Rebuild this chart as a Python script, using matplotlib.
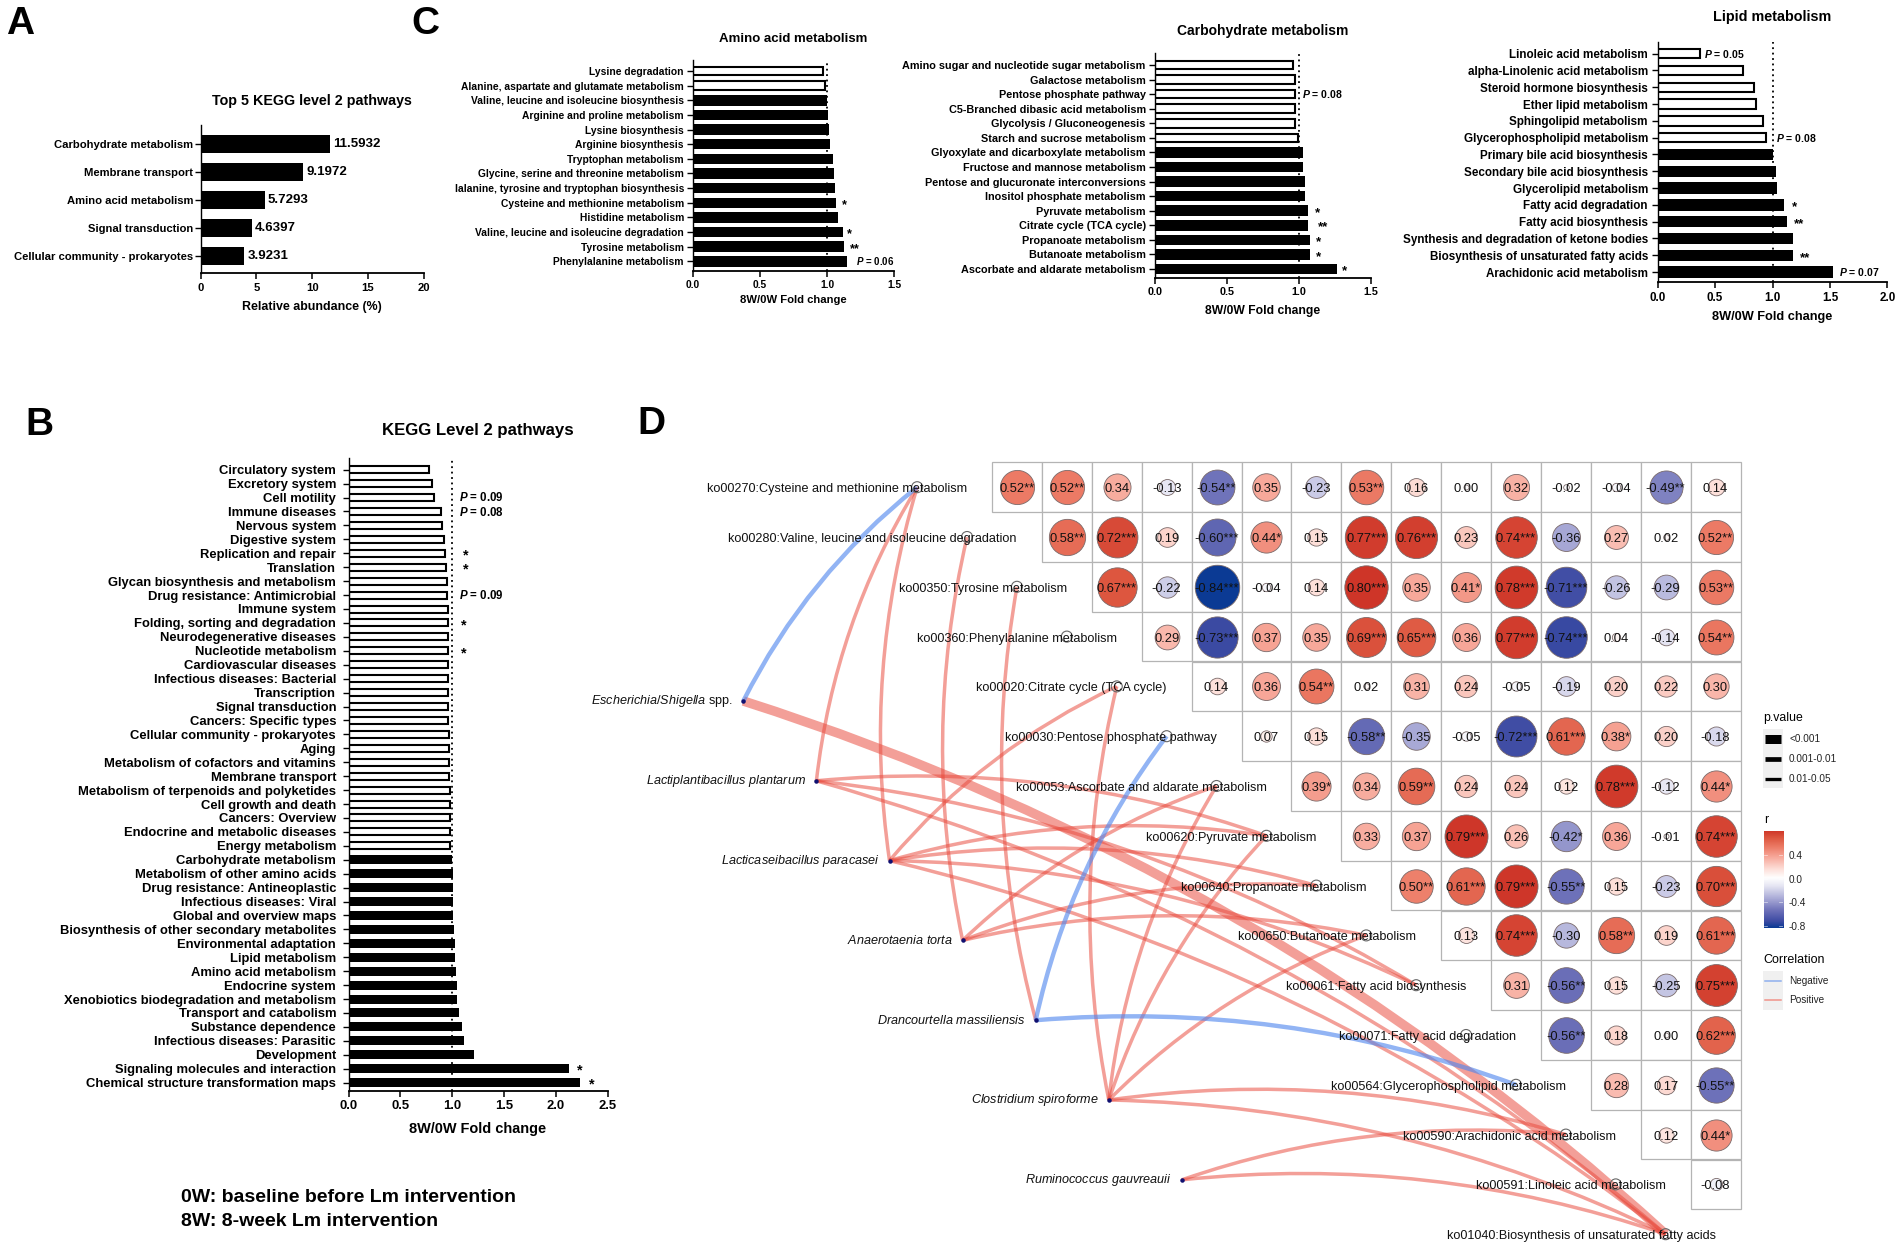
"""Four-panel KEGG figure: bar charts (A-C) and correlation network (D)."""

import numpy as np
import matplotlib
matplotlib.use('Agg')
import matplotlib.pyplot as plt
from matplotlib.colors import LinearSegmentedColormap, Normalize
from matplotlib.patches import PathPatch, Rectangle
from matplotlib.path import Path

plt.rcParams['font.family'] = 'Liberation Sans'
plt.rcParams['mathtext.fontset'] = 'custom'
plt.rcParams['mathtext.rm'] = 'Liberation Sans'
plt.rcParams['mathtext.it'] = 'Liberation Sans:italic'
plt.rcParams['mathtext.bfit'] = 'Liberation Sans:italic:bold'

W, H = 1902, 1248

# panel A
top5_names = ['Carbohydrate metabolism', 'Membrane transport', 'Amino acid metabolism',
              'Signal transduction', 'Cellular community - prokaryotes']
top5_values = [11.5932, 9.1972, 5.7293, 4.6397, 3.9231]

# panel B
level2_names = ['Circulatory system', 'Excretory system', 'Cell motility', 'Immune diseases',
                'Nervous system', 'Digestive system', 'Replication and repair', 'Translation',
                'Glycan biosynthesis and metabolism', 'Drug resistance: Antimicrobial',
                'Immune system', 'Folding, sorting and degradation', 'Neurodegenerative diseases',
                'Nucleotide metabolism', 'Cardiovascular diseases', 'Infectious diseases: Bacterial',
                'Transcription', 'Signal transduction', 'Cancers: Specific types',
                'Cellular community - prokaryotes', 'Aging', 'Metabolism of cofactors and vitamins',
                'Membrane transport', 'Metabolism of terpenoids and polyketides',
                'Cell growth and death', 'Cancers: Overview', 'Endocrine and metabolic diseases',
                'Energy metabolism', 'Carbohydrate metabolism', 'Metabolism of other amino acids',
                'Drug resistance: Antineoplastic', 'Infectious diseases: Viral',
                'Global and overview maps', 'Biosynthesis of other secondary metabolites',
                'Environmental adaptation', 'Lipid metabolism', 'Amino acid metabolism',
                'Endocrine system', 'Xenobiotics biodegradation and metabolism',
                'Transport and catabolism', 'Substance dependence', 'Infectious diseases: Parasitic',
                'Development', 'Signaling molecules and interaction',
                'Chemical structure transformation maps']
level2_values = [0.78, 0.80, 0.82, 0.89, 0.905, 0.92, 0.925, 0.94, 0.945, 0.95, 0.955, 0.955,
                 0.955, 0.955, 0.957, 0.957, 0.96, 0.96, 0.962, 0.965, 0.965, 0.97, 0.972, 0.974,
                 0.975, 0.977, 0.978, 0.98, 1.0, 1.003, 1.005, 1.005, 1.01, 1.02, 1.025, 1.027,
                 1.035, 1.045, 1.05, 1.063, 1.09, 1.11, 1.21, 2.13, 2.23]
level2_notes = [(2, 'P = 0.09', 1.067), (3.1, 'P = 0.08', 1.067), (6, '*', 1.1), (7, '*', 1.1),
                (9, 'P = 0.09', 1.067), (11, '*', 1.08), (13, '*', 1.08), (43, '*', 2.2), (44, '*', 2.32)]

# panel C
amino_names = ['Lysine degradation', 'Alanine, aspartate and glutamate metabolism',
               'Valine, leucine and isoleucine biosynthesis', 'Arginine and proline metabolism',
               'Lysine biosynthesis', 'Arginine biosynthesis', 'Tryptophan metabolism',
               'Glycine, serine and threonine metabolism',
               'lalanine, tyrosine and tryptophan biosynthesis', 'Cysteine and methionine metabolism',
               'Histidine metabolism', 'Valine, leucine and isoleucine degradation',
               'Tyrosine metabolism', 'Phenylalanine metabolism']
amino_values = [0.965, 0.98, 1.0, 1.005, 1.01, 1.02, 1.04, 1.05, 1.055, 1.065, 1.08, 1.115, 1.125, 1.15]
amino_notes = [(9, '*', 1.11), (11, '*', 1.15), (12, '**', 1.17), (13, 'P = 0.06', 1.215)]

carb_names = ['Amino sugar and nucleotide sugar metabolism', 'Galactose metabolism',
              'Pentose phosphate pathway', 'C5-Branched dibasic acid metabolism',
              'Glycolysis / Gluconeogenesis', 'Starch and sucrose metabolism',
              'Glyoxylate and dicarboxylate metabolism', 'Fructose and mannose metabolism',
              'Pentose and glucuronate interconversions', 'Inositol phosphate metabolism',
              'Pyruvate metabolism', 'Citrate cycle (TCA cycle)', 'Propanoate metabolism',
              'Butanoate metabolism', 'Ascorbate and aldarate metabolism']
carb_values = [0.96, 0.97, 0.97, 0.97, 0.975, 0.995, 1.03, 1.03, 1.04, 1.04, 1.06, 1.065, 1.075, 1.075, 1.265]
carb_notes = [(2, 'P = 0.08', 1.02), (10, '*', 1.11), (11, '**', 1.13), (12, '*', 1.12), (13, '*', 1.12), (14, '*', 1.3)]

lipid_names = ['Linoleic acid metabolism', 'alpha-Linolenic acid metabolism',
               'Steroid hormone biosynthesis', 'Ether lipid metabolism', 'Sphingolipid metabolism',
               'Glycerophospholipid metabolism', 'Primary bile acid biosynthesis',
               'Secondary bile acid biosynthesis', 'Glycerolipid metabolism', 'Fatty acid degradation',
               'Fatty acid biosynthesis', 'Synthesis and degradation of ketone bodies',
               'Biosynthesis of unsaturated fatty acids', 'Arachidonic acid metabolism']
lipid_values = [0.365, 0.745, 0.84, 0.855, 0.915, 0.945, 1.0, 1.03, 1.035, 1.10, 1.13, 1.18, 1.18, 1.53]
lipid_notes = [(0, 'P = 0.05', 0.405), (5, 'P = 0.08', 1.03), (9, '*', 1.17), (10, '**', 1.19),
               (12, '**', 1.24), (13, 'P = 0.07', 1.575)]

# panel D
pathway_labels = ['ko00270:Cysteine and methionine metabolism',
                  'ko00280:Valine, leucine and isoleucine degradation',
                  'ko00350:Tyrosine metabolism', 'ko00360:Phenylalanine metabolism',
                  'ko00020:Citrate cycle (TCA cycle)', 'ko00030:Pentose phosphate pathway',
                  'ko00053:Ascorbate and aldarate metabolism', 'ko00620:Pyruvate metabolism',
                  'ko00640:Propanoate metabolism', 'ko00650:Butanoate metabolism',
                  'ko00061:Fatty acid biosynthesis', 'ko00071:Fatty acid degradation',
                  'ko00564:Glycerophospholipid metabolism', 'ko00590:Arachidonic acid metabolism',
                  'ko00591:Linoleic acid metabolism', 'ko01040:Biosynthesis of unsaturated fatty acids']

corr_rows = [
    ['0.52**', '0.52**', '0.34', '-0.13', '-0.54**', '0.35', '-0.23', '0.53**', '0.16', '0.00', '0.32', '-0.02', '-0.04', '-0.49**', '0.14'],
    ['0.58**', '0.72***', '0.19', '-0.60***', '0.44*', '0.15', '0.77***', '0.76***', '0.23', '0.74***', '-0.36', '0.27', '0.02', '0.52**'],
    ['0.67***', '-0.22', '-0.84***', '-0.04', '0.14', '0.80***', '0.35', '0.41*', '0.78***', '-0.71***', '-0.26', '-0.29', '0.53**'],
    ['0.29', '-0.73***', '0.37', '0.35', '0.69***', '0.65***', '0.36', '0.77***', '-0.74***', '0.04', '-0.14', '0.54**'],
    ['0.14', '0.36', '0.54**', '0.02', '0.31', '0.24', '-0.05', '-0.19', '0.20', '0.22', '0.30'],
    ['0.07', '0.15', '-0.58**', '-0.35', '-0.05', '-0.72***', '0.61***', '0.38*', '0.20', '-0.18'],
    ['0.39*', '0.34', '0.59**', '0.24', '0.24', '0.12', '0.78***', '-0.12', '0.44*'],
    ['0.33', '0.37', '0.79***', '0.26', '-0.42*', '0.36', '-0.01', '0.74***'],
    ['0.50**', '0.61***', '0.79***', '-0.55**', '0.15', '-0.23', '0.70***'],
    ['0.13', '0.74***', '-0.30', '0.58**', '0.19', '0.61***'],
    ['0.31', '-0.56**', '0.15', '-0.25', '0.75***'],
    ['-0.56**', '0.18', '0.00', '0.62***'],
    ['0.28', '0.17', '-0.55**'],
    ['0.12', '0.44*'],
    ['-0.08'],
]

species_labels = [r'$\mathit{Escherichia/Shigella}$ spp.', r'$\mathit{Lactiplantibacillus\ plantarum}$',
                  r'$\mathit{Lacticaseibacillus\ paracasei}$', r'$\mathit{Anaerotaenia\ torta}$',
                  r'$\mathit{Drancourtella\ massiliensis}$', r'$\mathit{Clostridium\ spiroforme}$',
                  r'$\mathit{Ruminococcus\ gauvreauii}$']
# (species index, pathway index, width class)
positive_edges = [(0, 15, 3), (1, 0, 1), (1, 7, 1), (1, 10, 1), (1, 15, 1),
                  (2, 0, 1), (2, 4, 1), (2, 7, 1), (2, 8, 1), (2, 10, 1), (2, 15, 1),
                  (3, 1, 1), (3, 6, 1), (3, 8, 1), (3, 9, 1), (4, 2, 1),
                  (5, 4, 1), (5, 6, 1), (5, 7, 1), (5, 9, 1), (5, 13, 1), (5, 15, 1),
                  (6, 13, 1), (6, 15, 1)]
negative_edges = [(0, 0, 2), (4, 5, 2), (4, 12, 2)]

pvalue_labels = ['<0.001', '0.001-0.01', '0.01-0.05']
pvalue_widths = [9, 4.7, 3.3]
colorbar_ticks = [0.4, 0.0, -0.4, -0.8]

CELL_W, CELL_H = 49.9, 49.8
GRID_X, GRID_Y = 992.0, 462.3
SPECIES_X, SPECIES_Y = 743.3, 701.0
SPECIES_DX, SPECIES_DY = 73.1, 79.8
EDGE_PX = {1: 3.5, 2: 4.4, 3: 9.5}
RAD = 0.11

corr_cmap = LinearSegmentedColormap.from_list('corr', [
    (0.0, '#0b3a94'), (0.065, '#3d4ba3'), (0.17, '#6c70b8'), (0.29, '#a8a9d6'), (0.42, '#e6e6f3'),
    (0.5, '#ffffff'), (0.585, '#fde0da'), (0.71, '#f7a89a'), (0.81, '#ec7b66'),
    (0.9, '#dd5740'), (1.0, '#c92a20')])
corr_norm = Normalize(vmin=-0.84, vmax=0.84)


def px_axes(fig, left, top, right, bottom):
    """pixel box -> axes"""
    ax = fig.add_axes([left / W, 1 - bottom / H, (right - left) / W, (bottom - top) / H])
    ax.patch.set_alpha(0)
    return ax


def bar_panel(fig, box, first_y, step, names, values, xmax, xticks, title, title_xy, title_size,
              label_size, xlabel, xlabel_y, xlabel_size, n_white=0, bar_h=10.0, notes=None,
              note_size=None, ref=True, label_pad=2.5):
    left, top, right, bottom = box
    ax = px_axes(fig, left, top, right, bottom)
    y = np.arange(len(values))
    ax.set_xlim(0, xmax)
    ax.set_ylim((bottom - first_y) / step, (top - first_y) / step)
    if ref:
        ax.axvline(1.0, color='black', lw=1.3, ls=(0, (1, 2)), zorder=1)
    for i, v in zip(y, values):
        if i < n_white:
            ax.barh(i, v, height=(bar_h - 2) / step, color='white', edgecolor='black', linewidth=1.5, zorder=2)
        else:
            ax.barh(i, v, height=bar_h / step, color='black', edgecolor='none', zorder=2)
    ax.set_yticks(y)
    ax.set_yticklabels(names, fontsize=label_size, fontweight='bold')
    ax.set_xticks(xticks)
    ax.set_xticklabels([t if isinstance(t, int) else f'{t:.1f}' for t in xticks],
                       fontsize=label_size, fontweight='bold')
    ax.tick_params(axis='y', length=4, width=1.0, pad=label_pad)
    ax.tick_params(axis='x', length=4, width=1.1, pad=3)
    ax.spines['top'].set_visible(False)
    ax.spines['right'].set_visible(False)
    ax.spines['left'].set_linewidth(1.0)
    ax.spines['bottom'].set_linewidth(1.3)
    fig.text(title_xy[0] / W, 1 - title_xy[1] / H, title, fontsize=title_size, fontweight='bold',
             ha='center', va='center')
    fig.text(title_xy[0] / W, 1 - (xlabel_y + 1) / H, xlabel, fontsize=xlabel_size,
             fontweight='bold', ha='center', va='center')
    for i, text, x in notes or []:
        if text.startswith('P'):
            ax.text(x, i, r'$\mathbfit{P}$' + text[1:], fontsize=note_size, fontweight='bold',
                    ha='left', va='center')
        else:
            ax.text(x, i + 0.16, text, fontsize=note_size + 2, fontweight='bold', ha='left', va='center')
    return ax


def draw_curve(ax, x0, y0, x1, y1, color, width_px, alpha):
    # quadratic arc that bows to the left of the species -> pathway direction
    p0, p1 = np.array([x0, y0]), np.array([x1, y1])
    d = p1 - p0
    ctrl = (p0 + p1) / 2 + RAD * np.array([d[1], -d[0]])
    patch = PathPatch(Path([p0, ctrl, p1], [Path.MOVETO, Path.CURVE3, Path.CURVE3]), facecolor='none',
                      edgecolor=color, linewidth=width_px * 0.72, alpha=alpha, capstyle='butt', zorder=2)
    ax.add_patch(patch)


def network_panel(fig):
    left, top, right, bottom = 600, 440, 1760, 1248
    ax = px_axes(fig, left, top, right, bottom)
    ax.set_xlim((left - GRID_X) / CELL_W, (right - GRID_X) / CELL_W)
    ax.set_ylim((bottom - GRID_Y) / CELL_H, (top - GRID_Y) / CELL_H)
    ax.axis('off')

    sx = [(SPECIES_X + i * SPECIES_DX - GRID_X) / CELL_W for i in range(len(species_labels))]
    sy = [(SPECIES_Y + i * SPECIES_DY - GRID_Y) / CELL_H for i in range(len(species_labels))]
    px = [i - 1.5 for i in range(len(pathway_labels))]
    py = [i + 0.5 for i in range(len(pathway_labels))]

    # grid and correlation circles
    for r, row in enumerate(corr_rows):
        for k, cell in enumerate(row):
            c = r + k
            ax.add_patch(Rectangle((c, r), 1, 1, facecolor='white', edgecolor='#b4b4b4', linewidth=0.9, zorder=1))
            val = float(cell.rstrip('*'))
            radius = max(2.5, 24.5 * abs(val) ** 0.55)
            ax.scatter(c + 0.5, r + 0.5, s=(2 * radius * 0.72) ** 2, color=corr_cmap(corr_norm(val)),
                       edgecolor='#7a6a6a', linewidth=0.6, zorder=3)
            ax.text(c + 0.5, r + 0.54, cell, fontsize=9.3, color='#111111', ha='center', va='center', zorder=6)

    # edges
    for s, p, w in positive_edges:
        draw_curve(ax, sx[s], sy[s], px[p], py[p], '#e8483a', EDGE_PX[w], 0.52)
    for s, p, w in negative_edges:
        draw_curve(ax, sx[s], sy[s], px[p], py[p], '#4f86ee', EDGE_PX[w], 0.62)

    # nodes and labels
    ax.scatter(px, py, s=(11 * 0.72) ** 2, facecolor='none', edgecolor='#666666', linewidth=0.8, zorder=4)
    ax.scatter(sx, sy, s=(4.5 * 0.72) ** 2, color='#101070', linewidth=0, zorder=4)
    for i, label in enumerate(pathway_labels):
        ax.text(px[i] + 1.0, py[i] + 0.04, label, fontsize=9.08, color='#111111', ha='right', va='center', zorder=5)
    for i, label in enumerate(species_labels):
        ax.text(sx[i] - 0.2, sy[i], label, fontsize=9.1, color='#111111', ha='right', va='center', zorder=5)


def legends(fig):
    # p.value
    fig.text(1763 / W, 1 - 718 / H, 'p.value', fontsize=8.8, ha='left', va='center')
    ax = px_axes(fig, 1763, 729, 1783, 788)
    ax.set_xlim(0, 1)
    ax.set_ylim(2.45, -0.5)
    ax.axis('off')
    ax.add_patch(Rectangle((0, -0.5), 1, 3, facecolor='#f0f0f0', edgecolor='none'))
    for i, (label, w) in enumerate(zip(pvalue_labels, pvalue_widths)):
        ax.plot([0.1, 0.9], [i, i], color='black', lw=w * 0.72, solid_capstyle='butt')
        ax.text(1.3, i, label, fontsize=7.2, ha='left', va='center', color='#222222', clip_on=False)

    # r colourbar
    fig.text(1764 / W, 1 - 820 / H, 'r', fontsize=8.8, ha='left', va='center')
    ax = px_axes(fig, 1763.5, 831, 1783, 928.5)
    grad = np.linspace(0.8, -0.84, 200).reshape(-1, 1)
    ax.imshow(grad, cmap=corr_cmap, norm=corr_norm, aspect='auto', extent=[0, 1, -0.84, 0.8])
    ax.set_xticks([])
    ax.yaxis.tick_right()
    ax.set_yticks(colorbar_ticks)
    ax.set_yticklabels([f'{t:.1f}' for t in colorbar_ticks], fontsize=7.2, color='#222222')
    ax.tick_params(axis='y', length=0, pad=4)
    for s in ax.spines.values():
        s.set_visible(False)
    for t in colorbar_ticks:
        ax.plot([0, 0.2], [t, t], color='white', lw=0.5, alpha=0.7)
        ax.plot([0.8, 1], [t, t], color='white', lw=0.5, alpha=0.7)
    ax.set_xlim(0, 1)
    ax.set_ylim(-0.84, 0.8)

    # correlation key
    fig.text(1763 / W, 1 - 960 / H, 'Correlation', fontsize=9, ha='left', va='center')
    ax = px_axes(fig, 1763, 971, 1783, 1010)
    ax.set_xlim(0, 1)
    ax.set_ylim(1.5, -0.5)
    ax.axis('off')
    ax.add_patch(Rectangle((0, -0.5), 1, 2, facecolor='#f0f0f0', edgecolor='none'))
    ax.plot([0.1, 0.9], [0, 0], color='#8fb0ee', lw=1.1)
    ax.plot([0.1, 0.9], [1, 1], color='#f0938a', lw=1.1)
    ax.text(1.3, 0, 'Negative', fontsize=7.2, ha='left', va='center', color='#222222', clip_on=False)
    ax.text(1.3, 1, 'Positive', fontsize=7.2, ha='left', va='center', color='#222222', clip_on=False)


fig = plt.figure(figsize=(W / 100, H / 100), dpi=100, facecolor='white')

# A
ax_a = bar_panel(fig, (200.7, 125, 423.7, 273), 144.3, 27.85, top5_names, top5_values, 20, [0, 5, 10, 15, 20],
                 'Top 5 KEGG level 2 pathways', (312, 101), 10.3, 8.15, 'Relative abundance (%)', 306, 8.9,
                 bar_h=18.3, ref=False, label_pad=1.2)
for i, v in enumerate(top5_values):
    ax_a.text(v + 0.25, i, f'{v:.4f}', fontsize=9.5, fontweight='bold', ha='left', va='center')

# B
bar_panel(fig, (348.6, 458, 607.8, 1090.7), 469.7, 13.93, level2_names, level2_values, 2.5,
          [0.0, 0.5, 1.0, 1.5, 2.0, 2.5], 'KEGG Level 2 pathways', (477.5, 431), 12.1, 9.4,
          '8W/0W Fold change', 1128, 10.45, n_white=28, bar_h=9.0, notes=level2_notes, note_size=8.3,
          label_pad=5)

# C
bar_panel(fig, (693, 60, 894.4, 270.7), 71, 14.64, amino_names, amino_values, 1.5,
          [0.0, 0.5, 1.0, 1.5], 'Amino acid metabolism', (793, 39), 9.55, 7.4,
          '8W/0W Fold change', 299, 8.15, n_white=2, bar_h=10.5, notes=amino_notes, note_size=7)
bar_panel(fig, (1155.4, 53, 1370.8, 277.7), 65, 14.57, carb_names, carb_values, 1.5,
          [0.0, 0.5, 1.0, 1.5], 'Carbohydrate metabolism', (1263, 30.7), 10, 7.85,
          '8W/0W Fold change', 309.7, 8.7, n_white=6, bar_h=10.5, notes=carb_notes, note_size=7.6,
          label_pad=3)
bar_panel(fig, (1657.6, 41.7, 1887.4, 282), 53.7, 16.8, lipid_names, lipid_values, 2.0,
          [0.0, 0.5, 1.0, 1.5, 2.0], 'Lipid metabolism', (1772, 17.3), 10.4, 8.35,
          '8W/0W Fold change', 316, 9.2, n_white=6, bar_h=11.5, notes=lipid_notes, note_size=7.5,
          label_pad=3)

network_panel(fig)
legends(fig)

for letter, x, y in [('A', 6, 24), ('C', 411, 24), ('B', 25, 425), ('D', 637, 424)]:
    fig.text(x / W, 1 - y / H, letter, fontsize=28, fontweight='bold', ha='left', va='center')

fig.text(181 / W, 1 - 1198 / H, '0W: baseline before Lm intervention', fontsize=14, fontweight='bold', va='center')
fig.text(181 / W, 1 - 1221.5 / H, '8W: 8-week Lm intervention', fontsize=14, fontweight='bold', va='center')

fig.savefig('out.png', dpi=100)
plt.close(fig)
